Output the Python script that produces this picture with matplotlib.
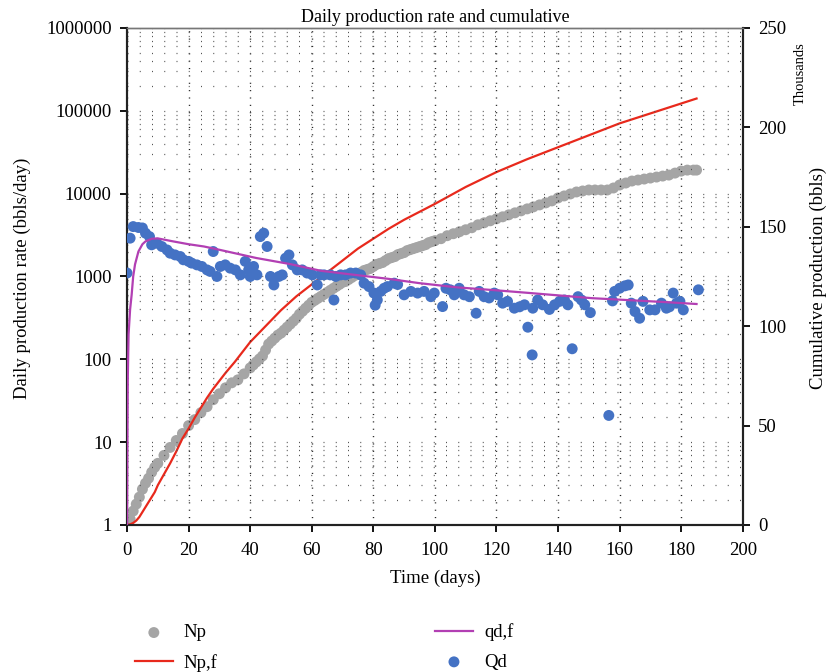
import matplotlib
matplotlib.use('Agg')
import matplotlib.pyplot as plt
from matplotlib.ticker import LogLocator, FuncFormatter, NullFormatter, MultipleLocator


###########################################################################
#                                  DATA                                   #
###########################################################################

# Qd - measured daily rate (bbls/day), left log axis
t_qd = [0, 1, 2, 3.7, 5, 6, 7.3, 8, 9.7, 11.3,
        13, 14, 15.6, 17.3, 18.3, 20, 21, 22.7, 24.3, 26,
        27, 28, 29.2, 30.3, 31.9, 33.5, 35.2, 36.8, 38.4, 39.5,
        40, 41.1, 42.2, 43.3, 44.4, 45.5, 46.6, 47.7, 49.3, 50.4,
        51.5, 52.6, 53.7, 55.3, 56.9, 58.5, 60.2, 61.8, 62.9, 64,
        66, 67.8, 69.4, 71, 72.6, 74.3, 75.9, 77, 78.6, 80.2,
        80.6, 81.3, 82.4, 83.5, 84.6, 86.8, 87.9, 90, 92.2, 94.4,
        96.5, 98.7, 99.8, 102.5, 103.6, 105, 106.3, 107.9, 109.5, 111.2,
        113.4, 114.4, 116, 117.6, 119.3, 120.4, 122, 123.6, 125.8, 127.5,
        129.1, 130.2, 131.6, 131.8, 133.4, 135, 137.2, 138.9, 140.5, 142.1,
        143.2, 144.6, 146.5, 147.6, 148.7, 150.5, 156.5, 157.7, 158.4, 160,
        161.7, 162.8, 163.8, 165, 166.5, 167.6, 169.8, 171.5, 173.6, 175.2,
        176.2, 177.4, 178.5, 179.6, 180.7, 185.6, 67.2]
qd = [1100, 2900, 4000, 3900, 3850, 3330, 3030, 2410, 2520, 2300,
      2090, 1910, 1820, 1740, 1590, 1520, 1450, 1380, 1320, 1200,
      1150, 2000, 1000, 1320, 1380, 1260, 1200, 1045, 1520, 1200,
      1000, 1320, 1045, 3030, 3330, 2300, 1000, 790, 1000, 1045,
      1660, 1820, 1380, 1200, 1200, 1100, 1045, 790, 1045, 1045,
      1045, 1000, 1045, 1045, 1100, 1100, 1045, 830, 755, 630,
      450, 520, 660, 720, 755, 830, 800, 600, 660, 630,
      660, 570, 630, 433, 720, 690, 600, 720, 600, 570,
      360, 660, 570, 550, 630, 600, 476, 500, 414, 430,
      455, 244, 113, 414, 520, 455, 400, 455, 500, 520,
      455, 134, 570, 520, 455, 366, 21, 507, 660, 720,
      770, 790, 476, 377, 313, 500, 395, 395, 476, 414,
      430, 630, 476, 500, 395, 690, 520]

# qd,f - fitted daily rate (bbls/day)
t_qdf = [0, 0.1, 0.25, 0.5, 1, 1.5, 2, 2.6, 3.7, 5,
         6, 8, 10, 15, 20, 25, 30, 42, 53, 63,
         74, 85, 95, 107, 120, 130, 151, 175, 185]
qdf = [1, 8, 60, 200, 400, 600, 1000, 1400, 2000, 2450,
       2650, 2850, 2880, 2650, 2450, 2300, 2100, 1670, 1410, 1170,
       1045, 935, 830, 740, 680, 635, 547, 490, 465]

# Np - measured cumulative production (thousand bbls), right axis
t_np = [0, 1, 2, 3, 4, 5, 6, 7, 8, 9, 10,
        12, 14, 16, 18, 20, 22, 24, 26, 28, 30,
        32, 34, 36, 38, 40, 42, 44, 46, 48, 50,
        52, 54, 56, 58, 60, 62, 64, 66, 68, 70,
        72, 74, 76, 78, 80, 82, 84, 86, 88, 90,
        92, 94, 96, 98, 100, 102, 104, 106, 108, 110,
        112, 114, 116, 118, 120, 122, 124, 126, 128, 130,
        132, 134, 136, 138, 140, 142, 144, 146, 148, 150,
        152, 154, 156, 158, 160, 162, 164, 166, 168, 170,
        172, 174, 176, 178, 180, 182, 184, 185,
        41, 43, 45, 47, 49, 51, 53, 55, 57, 59,
        61, 63, 65, 67, 69, 71, 73, 75, 77, 79,
        81, 83, 85, 87, 89, 91, 93, 95, 97, 99]
np_k = [0, 3, 7, 10.5, 14, 18, 21, 23.5, 26.5, 29, 31,
        35, 39, 42.5, 46, 50, 53, 56.5, 59.5, 63, 66,
        69, 71.5, 73, 76, 79, 82, 85, 91, 94, 96.5,
        99.5, 102.5, 106, 109, 112, 114, 116, 118, 120, 122,
        123.5, 125.5, 127, 128.5, 130, 131.5, 133, 134.5, 136, 137,
        138.5, 139.5, 140.5, 142, 143, 144, 145.5, 146.5, 147.5, 148.5,
        149.5, 151, 152, 153, 154, 155, 156, 157, 158, 159,
        160, 161, 162, 163, 164.5, 165.5, 166.5, 167.5, 168, 168.5,
        168.5, 168.5, 168.5, 169.5, 171, 172, 173, 173.5, 174, 174.5,
        175, 175.5, 176, 177, 178, 178.5, 178.5, 178.5,
        80.5, 83.5, 88, 92.5, 95.5, 98, 101, 104, 107.5, 110.5,
        113, 115, 117, 119, 121, 122.5, 124.5, 126, 128, 129,
        131, 132, 134, 135, 136.5, 138, 139, 140, 141, 142.5]

# Np,f - fitted cumulative production (thousand bbls)
t_npf = [0, 1, 2, 3, 4, 5, 6, 7, 8, 9,
         10, 12, 14, 16, 18, 20, 22, 24, 26, 28,
         30, 32, 35, 40, 45, 50, 55, 60, 65, 70,
         75, 80, 85, 90, 95, 100, 110, 120, 130, 140,
         150, 160, 170, 180, 185]
npf = [0, 0.3, 1, 2.2, 4, 6.5, 9, 11.5, 14, 16.5,
       20, 25.5, 31, 37, 43.5, 48.5, 54, 59, 64, 68.5,
       72.5, 76.5, 82, 92, 100, 108, 115, 121, 127, 133,
       139, 144, 149, 153.5, 157.5, 161.5, 170, 177.5, 184, 190,
       196, 202, 207, 212, 214.5]

x_ticks = [0, 20, 40, 60, 80, 100, 120, 140, 160, 180, 200]
right_ticks = [0, 50, 100, 150, 200, 250]


###########################################################################
#                                  PLOT                                   #
###########################################################################

plt.rcParams['font.family'] = ['Liberation Serif', 'DejaVu Serif']

fig = plt.figure(figsize=(8.27, 6.72), dpi=100)
ax = fig.add_axes([0.1536, 0.2188, 0.7445, 0.7396])
ax2 = ax.twinx()

# left axis on top so the rate data sit over the cumulative curves
ax.set_zorder(ax2.get_zorder() + 1)
ax.patch.set_visible(False)

# cumulative (right axis)
np_pts = ax2.scatter(t_np, np_k, s=62, color='#a5a5a5', edgecolors='none',
                     label='Np', zorder=2)
npf_line, = ax2.plot(t_npf, npf, color='#e8291c', linewidth=1.6,
                     label='Np,f', zorder=3)

# daily rate (left axis)
qd_pts = ax.scatter(t_qd, qd, s=62, color='#4472c4', edgecolors='none',
                    label='Qd', zorder=3)
qdf_line, = ax.plot(t_qdf, qdf, color='#b23fb3', linewidth=1.6,
                    label='qd,f', zorder=4)

ax.set_xlim(0, 200)
ax.set_yscale('log')
ax.set_ylim(1, 1e6)
ax.xaxis.set_major_locator(MultipleLocator(20))
ax.yaxis.set_major_locator(LogLocator(base=10, numticks=10))
ax.yaxis.set_minor_locator(LogLocator(base=10, subs=range(2, 10), numticks=100))
ax.yaxis.set_major_formatter(FuncFormatter(lambda v, p: f'{int(round(v))}'))
ax.yaxis.set_minor_formatter(NullFormatter())
ax.set_xticks(x_ticks)

ax2.set_ylim(0, 250)
ax2.set_yticks(right_ticks)

# sparse dotted grid
ax.grid(True, axis='y', which='both', color='#555555',
        linestyle=(0, (0.8, 9.0)), linewidth=0.9)
ax.grid(True, axis='x', which='major', color='#222222',
        linestyle=(0, (0.8, 4.5)), linewidth=1.0)

for a in (ax, ax2):
    a.tick_params(which='major', direction='out', length=5, width=1.3,
                  labelsize=13.5, colors='black', pad=6)
    a.tick_params(which='minor', length=0)
    for side in ('left', 'right', 'bottom'):
        a.spines[side].set_linewidth(1.5)
        a.spines[side].set_color('#222222')
    a.spines['top'].set_linewidth(1.0)
    a.spines['top'].set_color('#777777')
ax.tick_params(axis='x', pad=7)

ax.set_title('Daily production rate and cumulative', fontsize=13, pad=4)
ax.set_xlabel('Time (days)', fontsize=13.5, labelpad=8)
fig.text(0.027, 0.586, 'Daily production rate (bbls/day)', rotation=90,
         ha='center', va='center', fontsize=13.5)
fig.text(0.989, 0.586, 'Cumulative production (bbls)', rotation=90,
         ha='center', va='center', fontsize=13.5)
fig.text(0.968, 0.891, 'Thousands', rotation=90, ha='center', va='center',
         fontsize=10.5)

fig.legend([np_pts, npf_line, qdf_line, qd_pts],
           ['Np', 'Np,f', 'qd,f', 'Qd'],
           ncol=2, loc='upper left', bbox_to_anchor=(0.152, 0.086),
           frameon=False, fontsize=13.5, scatterpoints=1, handlelength=2.0,
           handletextpad=0.6, columnspacing=11.6, labelspacing=0.65,
           borderpad=0)

fig.savefig('out.png', dpi=100)
